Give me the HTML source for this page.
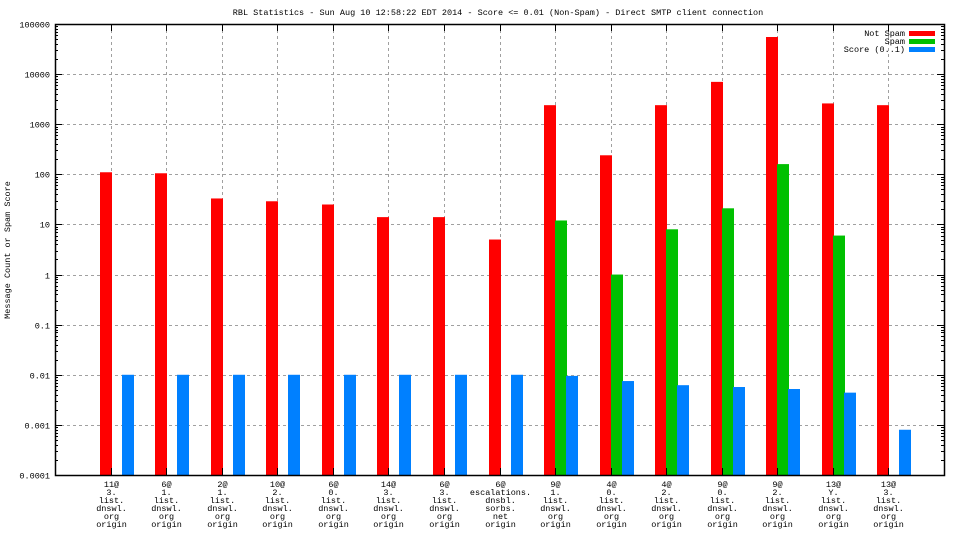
<!DOCTYPE html>
<html><head><meta charset="utf-8"><style>
html,body{margin:0;padding:0;background:#fff;}
svg text{font-family:"Liberation Mono","DejaVu Sans Mono",monospace;font-size:8.5px;fill:#000;}
</style></head><body>
<svg id="chart" width="960" height="540" xmlns="http://www.w3.org/2000/svg">
<text x="498" y="15" text-anchor="middle">RBL Statistics - Sun Aug 10 12:58:22 EDT 2014 - Score &lt;= 0.01 (Non-Spam) - Direct SMTP client connection</text>
<text transform="translate(10,250) rotate(-90)" text-anchor="middle">Message Count or Spam Score</text>
<g id="grid"></g><g id="bars"></g><g id="axes"></g><g id="labels"></g>
<g>
<text x="905" y="36" text-anchor="end">Not Spam</text>
<rect x="909" y="31" width="26" height="5" fill="#ff0000"/>
<text x="905" y="44" text-anchor="end">Spam</text>
<rect x="909" y="39" width="26" height="5" fill="#00c000"/>
<text x="905" y="52" text-anchor="end">Score (0..1)</text>
<rect x="909" y="47" width="26" height="5" fill="#0080ff"/>
</g>
</svg>
<script>
const categories=[["11@","3.","list.","dnswl.","org","origin"],["6@","1.","list.","dnswl.","org","origin"],["2@","1.","list.","dnswl.","org","origin"],["10@","2.","list.","dnswl.","org","origin"],["6@","0.","list.","dnswl.","org","origin"],["14@","3.","list.","dnswl.","org","origin"],["6@","3.","list.","dnswl.","org","origin"],["6@","escalations.","dnsbl.","sorbs.","net","origin"],["9@","1.","list.","dnswl.","org","origin"],["4@","0.","list.","dnswl.","org","origin"],["4@","2.","list.","dnswl.","org","origin"],["9@","0.","list.","dnswl.","org","origin"],["9@","2.","list.","dnswl.","org","origin"],["13@","Y.","list.","dnswl.","org","origin"],["13@","3.","list.","dnswl.","org","origin"]];
const notSpam=[110,105,33,29,25,14,14,5,2400,240,2400,7000,55000,2600,2400];
const spam=[null,null,null,null,null,null,null,null,12,1,8,21,160,6,null];
const score=[0.01,0.01,0.01,0.01,0.01,0.01,0.01,0.01,0.0095,0.0075,0.0062,0.0057,0.0052,0.0044,0.0008];
const yTicks=[100000,10000,1000,100,10,1,0.1,0.01,0.001,0.0001];
const yTickLabels=["100000","10000","1000","100","10","1","0.1","0.01","0.001","0.0001"];
const NS="http://www.w3.org/2000/svg";
const L=55,R=944,T=24,B=475;
const yMin=0.0001,yMax=100000;
function y(v){return B-(Math.log10(v)-Math.log10(yMin))/(Math.log10(yMax)-Math.log10(yMin))*(B-T);}
const step=(R-L)/(categories.length+1);
function xc(i){return L+(i+1)*step;}
function mk(tag,attrs,parent){const e=document.createElementNS(NS,tag);for(const k in attrs)e.setAttribute(k,attrs[k]);document.getElementById(parent).appendChild(e);return e;}
yTicks.forEach((t,i)=>{
  const yy=Math.round(y(t))+0.5;
  if(i>0&&i<yTicks.length-1){const g=mk('line',{x1:L,x2:R,y1:yy,y2:yy,stroke:'#a0a0a0','stroke-dasharray':'3,3'},'grid');
  
  }
  const tx=mk('text',{x:50,y:yy+3,'text-anchor':'end'},'axes');tx.textContent=yTickLabels[i];
  
  
  mk('line',{x1:L,x2:L+7,y1:yy,y2:yy,stroke:'#000'},'axes');
  mk('line',{x1:R-7,x2:R,y1:yy,y2:yy,stroke:'#000'},'axes');
  if(i<yTicks.length-1){for(let m=2;m<10;m++){const my=Math.round(y(t/10*m))+0.5;
    mk('line',{x1:L,x2:L+3,y1:my,y2:my,stroke:'#000'},'axes');mk('line',{x1:R-3,x2:R,y1:my,y2:my,stroke:'#000'},'axes');}}
});
categories.forEach((c,i)=>{
  const xx=Math.round(xc(i))+0.5;
  const g=mk('line',{x1:xx,x2:xx,y1:T,y2:B,stroke:'#a0a0a0','stroke-dasharray':'3,3'},'grid');
  
  
  mk('line',{x1:xx,x2:xx,y1:T,y2:T+7,stroke:'#000'},'axes');
  mk('line',{x1:xx,x2:xx,y1:B-7,y2:B,stroke:'#000'},'axes');
  c.forEach((ln,j)=>{const t=mk('text',{x:xx,y:487+j*8,'text-anchor':'middle'},'labels');t.textContent=ln;
    
    });
  const cx=Math.round(xc(i));
  function bar(v,x0,col,name){if(v==null)return;const yt=y(v);
    const r=mk('rect',{x:x0,y:yt,width:12,height:B-yt,fill:col},'bars');
    
    }
  bar(notSpam[i],cx-11,'#ff0000','bar-not-spam');
  bar(spam[i],cx,'#00c000','bar-spam');
  bar(score[i],cx+11,'#0080ff','bar-score');
});
const fr=mk('rect',{x:L+0.5,y:T+0.5,width:R-L,height:B-T,fill:'none',stroke:'#000','stroke-width':1.5},'axes');


</script>
</body></html>
